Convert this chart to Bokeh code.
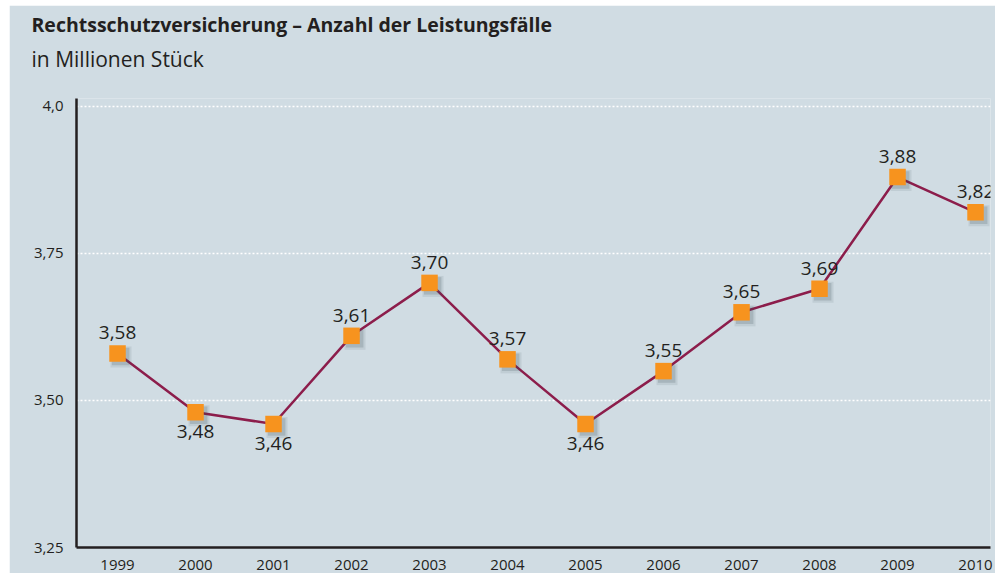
from bokeh.plotting import figure
from bokeh.models import FixedTicker, Title, ColumnDataSource, Range1d, LabelSet
from bokeh.transform import dodge
from bokeh.core.properties import value
from bokeh.embed import file_html
from bokeh.resources import INLINE

# ---- data ----
years = [1999, 2000, 2001, 2002, 2003, 2004, 2005, 2006, 2007, 2008, 2009, 2010]
cases = [3.58, 3.48, 3.46, 3.61, 3.70, 3.57, 3.46, 3.55, 3.65, 3.69, 3.88, 3.82]
case_labels = ["3,58", "3,48", "3,46", "3,61", "3,70", "3,57", "3,46", "3,55", "3,65", "3,69", "3,88", "3,82"]
label_side = ["above", "below", "below", "above", "above", "above", "below", "above", "above", "above", "above", "above"]
y_ticks = [3.25, 3.5, 3.75, 4.0]
y_tick_labels = ["3,25", "3,50", "3,75", "4,0"]
title_text = "Rechtsschutzversicherung – Anzahl der Leistungsfälle"
subtitle_text = "in Millionen Stück"

BG = "#d0dce3"
LINE = "#8c1d4b"
ORANGE = "#f7931e"
TXT = "#231f20"
FONT = "Open Sans"

p = figure(width=986, height=568, output_backend="svg", toolbar_location=None,
           x_range=Range1d(1998.474, 2010.192), y_range=Range1d(3.25, 4.0136),
           title=None, min_border_left=67, min_border_right=5, min_border_bottom=26,
           min_border_top=93)
p.styles = {"margin-left": "9px", "margin-top": "5px"}
p.background_fill_color = BG
p.border_fill_color = BG
p.outline_line_color = None

# spacer between subtitle and plot area
gap = Title(text=" ", align="left", standoff=18, text_font=FONT, text_font_size="1px")
p.add_layout(gap, "above")
sub = Title(text=subtitle_text, align="left", offset=-45, standoff=10,
            text_font=FONT, text_font_size="21px", text_font_style="normal", text_color=TXT)
p.add_layout(sub, "above")
main = Title(text=title_text, align="left", offset=-45, standoff=0,
             text_font=FONT, text_font_size="19.5px", text_font_style="bold", text_color=TXT)
p.add_layout(main, "above")

# axes
p.xaxis.ticker = FixedTicker(ticks=years)
p.yaxis.ticker = FixedTicker(ticks=y_ticks)
p.yaxis.major_label_overrides = {t: l for t, l in zip(y_ticks, y_tick_labels)}
for ax in (p.xaxis, p.yaxis):
    ax.axis_line_width = 2.5
    ax.axis_line_color = TXT
    ax.major_tick_line_color = None
    ax.minor_tick_line_color = None
    ax.major_label_text_font = FONT
    ax.major_label_text_font_size = "15px"
    ax.major_label_text_color = TXT
p.xaxis.major_label_standoff = 6
p.yaxis.major_label_standoff = 7

p.xgrid.grid_line_color = None
p.ygrid.grid_line_color = "white"
p.ygrid.grid_line_dash = "2 2"
p.ygrid.grid_line_width = 1.5

src = ColumnDataSource(dict(x=years, y=cases, lab=case_labels, side=label_side))
p.line("x", "y", source=src, line_color=LINE, line_width=2.5)

# soft shadow of the markers
p.scatter(dodge("x", 0.045, range=p.x_range), dodge("y", -0.006, range=p.y_range),
          source=src, marker="square", size=21, fill_color="#3a4a55", fill_alpha=0.10, line_color=None)
p.scatter(dodge("x", 0.04, range=p.x_range), dodge("y", -0.005, range=p.y_range),
          source=src, marker="square", size=17.5, fill_color="#3a4a55", fill_alpha=0.18, line_color=None)
p.scatter("x", "y", source=src, marker="square", size=16.5, fill_color=ORANGE, line_color=None)

above = ColumnDataSource(dict(
    x=[x for x, s in zip(years, label_side) if s == "above"],
    y=[y for y, s in zip(cases, label_side) if s == "above"],
    lab=[l for l, s in zip(case_labels, label_side) if s == "above"]))
below = ColumnDataSource(dict(
    x=[x for x, s in zip(years, label_side) if s == "below"],
    y=[y for y, s in zip(cases, label_side) if s == "below"],
    lab=[l for l, s in zip(case_labels, label_side) if s == "below"]))
p.add_layout(LabelSet(x="x", y="y", text="lab", source=above, text_align="center",
                      text_baseline="bottom", y_offset=14, text_font=value(FONT),
                      text_font_size=value("19px"), text_color=TXT))
p.add_layout(LabelSet(x="x", y="y", text="lab", source=below, text_align="center",
                      text_baseline="top", y_offset=-13, text_font=value(FONT),
                      text_font_size=value("19px"), text_color=TXT))

open("out.html", "w").write(file_html(p, INLINE))
